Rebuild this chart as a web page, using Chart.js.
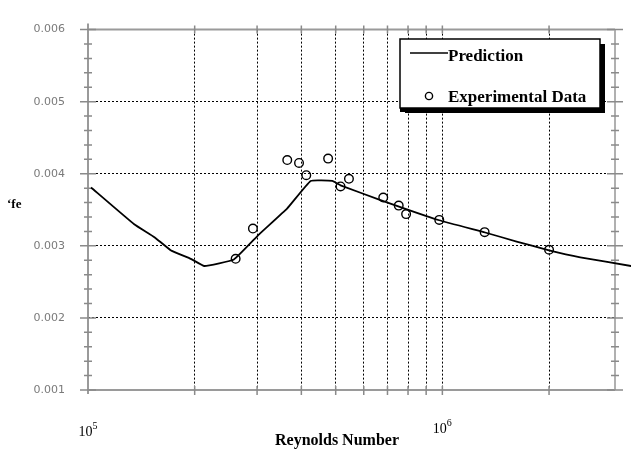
<!DOCTYPE html>
<html>
<head>
<meta charset="utf-8">
<script src="https://cdn.jsdelivr.net/npm/chart.js@4/dist/chart.umd.min.js"></script>
<style>
  html, body { margin: 0; padding: 0; background: #fff; }
  canvas { display: block; }
</style>
</head>
<body>
<canvas id="chart" width="631" height="450"></canvas>
<script>
// Predicted skin-friction coefficient along the Reynolds number range
const predictionRe = [1.02e5, 1.35e5, 1.54e5, 1.71e5, 1.95e5, 2.13e5, 2.58e5, 3.04e5, 3.65e5, 4.25e5, 4.89e5, 5.16e5, 6.69e5, 9.8e5, 1.32e6, 1.62e6, 2.0e6, 2.45e6, 3.41e6];
const predictionCf = [0.00381, 0.00330, 0.00312, 0.00294, 0.00282, 0.00272, 0.00281, 0.00316, 0.00352, 0.00390, 0.00390, 0.00384, 0.003635, 0.003355, 0.003185, 0.00306, 0.002937, 0.00284, 0.00272];

// Measured values
const experimentRe = [2.61e5, 2.92e5, 3.65e5, 3.94e5, 4.13e5, 4.76e5, 5.16e5, 5.45e5, 6.81e5, 7.53e5, 7.9e5, 9.8e5, 1.316e6, 2.0e6];
const experimentCf = [0.00282, 0.00324, 0.00419, 0.00415, 0.00398, 0.00421, 0.003824, 0.00393, 0.00367, 0.003558, 0.00344, 0.00336, 0.00319, 0.002946];

// Axis settings
const cfTicks = [0.001, 0.002, 0.003, 0.004, 0.005, 0.006];
const reGridValues = [2e5, 3e5, 4e5, 5e5, 6e5, 7e5, 8e5, 9e5, 1e6, 2e6];
const reDecadeExponents = [5, 6];
const seriesNames = ['Prediction', 'Experimental Data'];
const xAxisTitle = 'Reynolds Number';
const yAxisTitle = '\u02BBfe';

const SERIF = '"Liberation Serif", "DejaVu Serif", serif';

const framePlugin = {
  id: 'frame',
  beforeDraw(chart) {
    const ctx = chart.ctx;
    ctx.save();
    ctx.fillStyle = '#fff';
    ctx.fillRect(0, 0, chart.width, chart.height);
    ctx.restore();
  },
  beforeDatasetsDraw(chart) {
    const { ctx, chartArea: a, scales: { x, y } } = chart;
    ctx.save();
    ctx.strokeStyle = '#9a9a9a';
    ctx.lineWidth = 2;
    ctx.beginPath();
    ctx.moveTo(a.left, a.top); ctx.lineTo(a.right, a.top);
    ctx.moveTo(a.left, a.bottom); ctx.lineTo(a.right, a.bottom);
    ctx.moveTo(a.left, a.top - 6); ctx.lineTo(a.left, a.bottom + 4);
    ctx.stroke();
    ctx.strokeStyle = '#b0b0b0';
    ctx.beginPath();
    ctx.moveTo(a.right, a.top); ctx.lineTo(a.right, a.bottom);
    ctx.stroke();

    // tick marks on the vertical axes: majors every 0.001, minors every 0.0002
    ctx.lineWidth = 1.5;
    ctx.strokeStyle = '#8a8a8a';
    const steps = Math.round((y.max - y.min) / 0.0002);
    for (let i = 0; i <= steps; i++) {
      const py = y.getPixelForValue(y.min + i * 0.0002);
      const len = i % 5 === 0 ? 8 : 4;
      ctx.beginPath();
      ctx.moveTo(a.left - len, py); ctx.lineTo(a.left + len, py);
      ctx.moveTo(a.right - len, py); ctx.lineTo(a.right + len, py);
      ctx.stroke();
    }
    // tick marks on the horizontal axes
    reGridValues.forEach(v => {
      const px = x.getPixelForValue(v);
      ctx.beginPath();
      ctx.moveTo(px, a.bottom - 4); ctx.lineTo(px, a.bottom + 5);
      ctx.moveTo(px, a.top - 4); ctx.lineTo(px, a.top + 4);
      ctx.stroke();
    });
    ctx.restore();
  },
  afterDraw(chart) {
    const { ctx, scales: { x } } = chart;
    ctx.save();
    ctx.fillStyle = '#000';

    // decade labels on the Reynolds axis
    reDecadeExponents.forEach((e, i) => {
      const px = x.getPixelForValue(Math.pow(10, e));
      ctx.font = '14px ' + SERIF;
      const w1 = ctx.measureText('10').width;
      ctx.font = '10px ' + SERIF;
      const w2 = ctx.measureText(String(e)).width;
      const left = px - (w1 + w2) / 2;
      const base = i === 0 ? 436 : 433;
      ctx.font = '14px ' + SERIF;
      ctx.textAlign = 'left';
      ctx.textBaseline = 'alphabetic';
      ctx.fillText('10', left, base);
      ctx.font = '10px ' + SERIF;
      ctx.fillText(String(e), left + w1, base - 7);
    });

    // axis titles
    ctx.font = 'bold 16px ' + SERIF;
    ctx.textAlign = 'center';
    ctx.fillText(xAxisTitle, 337, 445);
    ctx.font = 'bold 13px ' + SERIF;
    ctx.textAlign = 'left';
    ctx.fillText(yAxisTitle, 7, 208);

    // legend box with drop shadow
    const bx = 400, by = 39, bw = 200, bh = 69;
    ctx.fillStyle = '#000';
    ctx.fillRect(bx + 5, by + 5, bw, bh);
    ctx.fillRect(bx, by + bh - 1, 10, 5);
    ctx.fillStyle = '#fff';
    ctx.fillRect(bx, by, bw, bh);
    ctx.strokeStyle = '#000';
    ctx.lineWidth = 1.5;
    ctx.strokeRect(bx, by, bw, bh);

    const ds = chart.data.datasets;
    ctx.font = 'bold 17px ' + SERIF;
    ctx.fillStyle = '#000';
    ctx.textAlign = 'left';
    ctx.textBaseline = 'alphabetic';
    ctx.lineWidth = 1.5;
    ctx.beginPath();
    ctx.moveTo(410, 53); ctx.lineTo(448, 53);
    ctx.stroke();
    ctx.fillText(ds[0].label, 448, 61);

    ctx.lineWidth = 1.4;
    ctx.beginPath();
    ctx.arc(429, 96, 3.6, 0, Math.PI * 2);
    ctx.stroke();
    ctx.fillText(ds[1].label, 448, 102);
    ctx.restore();
  }
};

const isEndTick = v => Math.abs(v - 0.001) < 1e-9 || Math.abs(v - 0.006) < 1e-9;

new Chart(document.getElementById('chart'), {
  type: 'scatter',
  data: {
    datasets: [
      {
        type: 'line',
        label: seriesNames[0],
        data: predictionRe.map((r, i) => ({ x: r, y: predictionCf[i] })),
        borderColor: '#000',
        borderWidth: 1.8,
        pointRadius: 0,
        tension: 0.1,
        fill: false,
        clip: false,
        order: 2
      },
      {
        type: 'scatter',
        label: seriesNames[1],
        data: experimentRe.map((r, i) => ({ x: r, y: experimentCf[i] })),
        pointStyle: 'circle',
        pointRadius: 4.3,
        pointBackgroundColor: 'rgba(255,255,255,0)',
        pointBorderColor: '#000',
        pointBorderWidth: 1.4,
        order: 1
      }
    ]
  },
  options: {
    responsive: false,
    animation: false,
    devicePixelRatio: 1,
    layout: { padding: { top: 20, right: 16, left: 0, bottom: 0 } },
    plugins: {
      legend: { display: false },
      tooltip: { enabled: false }
    },
    scales: {
      x: {
        type: 'logarithmic',
        min: 1e5,
        max: 3.07e6,
        afterBuildTicks(scale) { scale.ticks = reGridValues.map(v => ({ value: v })); },
        afterFit(scale) { scale.height = 60; },
        ticks: { display: false },
        grid: { color: '#000', lineWidth: 1, drawTicks: false },
        border: { display: false, dash: [2, 2] }
      },
      y: {
        type: 'linear',
        min: 0.001,
        max: 0.006,
        afterBuildTicks(scale) { scale.ticks = cfTicks.map(v => ({ value: v })); },
        afterFit(scale) { scale.width = 88; },
        ticks: {
          padding: 23,
          color: '#7a7a7a',
          font: { family: '"DejaVu Sans", sans-serif', size: 11 },
          callback: v => v.toFixed(3)
        },
        grid: {
          color: ctx => (ctx.tick && isEndTick(ctx.tick.value)) ? 'rgba(0,0,0,0)' : '#000',
          lineWidth: 1,
          drawTicks: false
        },
        border: { display: false, dash: [2, 2] }
      }
    }
  },
  plugins: [framePlugin]
});
</script>
</body>
</html>
